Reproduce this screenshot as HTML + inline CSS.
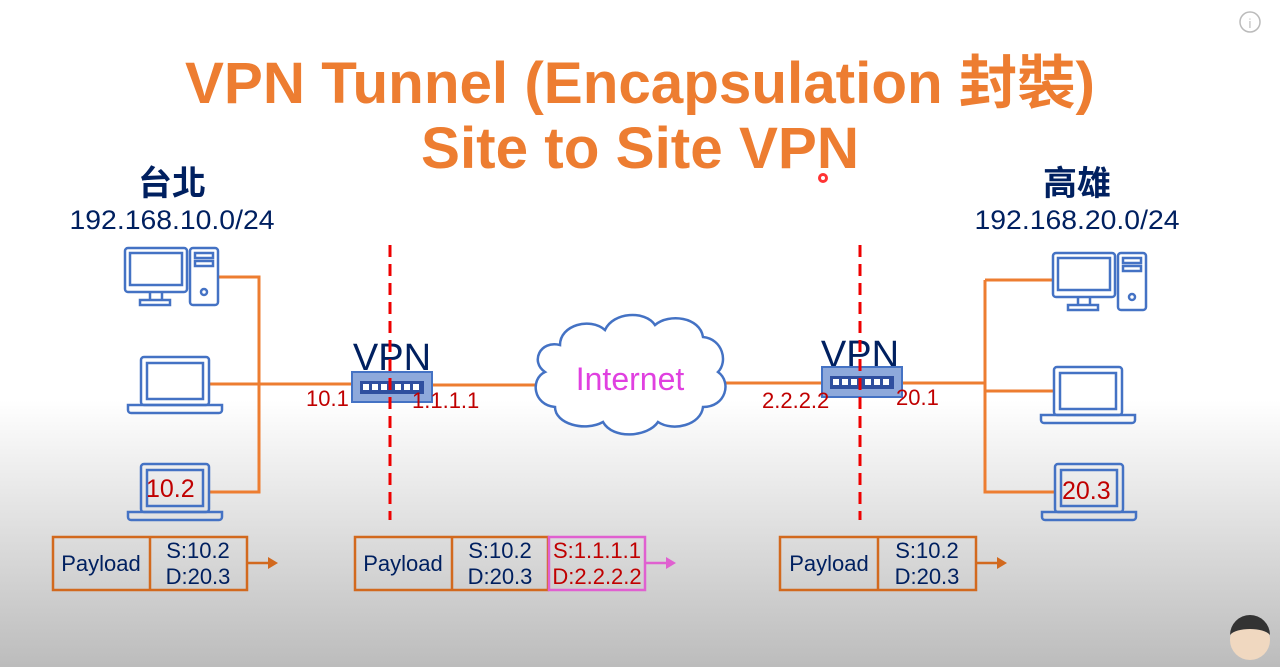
<!DOCTYPE html><html><head><meta charset="utf-8"><style>
html,body{margin:0;padding:0;width:1280px;height:667px;overflow:hidden}
body{background:linear-gradient(#fff 0,#fff 400px,#bcbcbc 667px)}
svg{display:block}
text{font-family:"Liberation Sans","Noto Sans CJK TC",sans-serif}
</style></head><body>
<svg width="1280" height="667" viewBox="0 0 1280 667">
<defs>
<g id="desk" fill="none" stroke="#4472c4" stroke-width="2.5">
<rect x="0" y="0" width="62" height="44" rx="3"/><rect x="5" y="5" width="52" height="32"/>
<path d="M25 44v8M37 44v8"/><rect x="15" y="52" width="30" height="5"/>
<rect x="65" y="0" width="28" height="57" rx="3"/><rect x="70" y="5" width="18" height="5"/><rect x="70" y="13" width="18" height="5"/><circle cx="79" cy="44" r="3"/>
</g>
<g id="lap" fill="none" stroke="#4472c4" stroke-width="2.5">
<rect x="13" y="0" width="68" height="48" rx="3"/><rect x="19" y="6" width="56" height="36"/>
<path d="M0 48h94v5a3 3 0 0 1-3 3H3a3 3 0 0 1-3-3z"/>
</g>
<g id="rt"><rect x="0" y="0" width="80" height="30" fill="#8ea9db" stroke="#4472c4" stroke-width="2"/>
<rect x="8" y="9" width="64" height="13" fill="#2f4f9f"/><g fill="#fff"><rect x="11" y="12" width="6" height="6"/><rect x="20" y="12" width="6" height="6"/><rect x="29" y="12" width="6" height="6"/><rect x="43" y="12" width="6" height="6"/><rect x="52" y="12" width="6" height="6"/><rect x="61" y="12" width="6" height="6"/></g></g>
</defs>
<g font-weight="bold" fill="#ed7d31" font-size="58" text-anchor="middle">
<text x="640" y="103" textLength="910" lengthAdjust="spacingAndGlyphs">VPN Tunnel (Encapsulation 封裝)</text>
<text x="640" y="168" textLength="438" lengthAdjust="spacingAndGlyphs">Site to Site VPN</text></g>
<circle cx="823" cy="178" r="5" fill="#f33"/><circle cx="823" cy="178" r="2" fill="#fff"/>
<circle cx="1250" cy="22" r="10" fill="none" stroke="#bbb" stroke-width="1.5"/><text x="1250" y="28" font-size="13" fill="#bbb" text-anchor="middle">i</text>
<g fill="#002060" text-anchor="middle">
<text x="172" y="195" font-size="34" font-weight="bold">台北</text>
<text x="172" y="229" font-size="27" textLength="205" lengthAdjust="spacingAndGlyphs">192.168.10.0/24</text>
<text x="1077" y="195" font-size="34" font-weight="bold">高雄</text>
<text x="1077" y="229" font-size="27" textLength="205" lengthAdjust="spacingAndGlyphs">192.168.20.0/24</text>
<text x="392" y="370" font-size="38">VPN</text>
<text x="860" y="367" font-size="38">VPN</text>
</g>
<g stroke="#ed7d31" stroke-width="3" fill="none">
<path d="M218 277H259V492H210M210 384H352M432 385H540M720 383H822M900 383H985M985 280V492H1055M1055 391H985M1052 280H985"/>
</g>
<use href="#desk" x="125" y="248"/><use href="#lap" x="128" y="357"/><use href="#lap" x="128" y="464"/>
<use href="#desk" x="1053" y="253"/><use href="#lap" x="1041" y="367"/><use href="#lap" x="1042" y="464"/>
<use href="#rt" x="352" y="372"/><use href="#rt" x="822" y="367"/>
<path d="M560 345c0-20 30-28 45-15c8-18 40-20 50-5c14-12 45-8 48 12c20 2 25 25 15 35c14 10 8 35-15 35c-2 18-30 25-45 15c-10 15-45 18-55 0c-18 10-48 2-48-15c-22-2-25-28-10-35c-15-10-5-32 15-27z" fill="#fff" stroke="#4472c4" stroke-width="2.5"/>
<text x="630" y="390" font-size="32" fill="#e040e0" text-anchor="middle">Internet</text>
<g stroke="#e00" stroke-width="3" stroke-dasharray="12,7"><path d="M390 245V520M860 245V520"/></g>
<g fill="#c00000" font-size="22">
<text x="306" y="406">10.1</text><text x="412" y="408">1.1.1.1</text><text x="762" y="408">2.2.2.2</text><text x="896" y="405">20.1</text>
<text x="146" y="497" font-size="25">10.2</text><text x="1062" y="499" font-size="25">20.3</text></g>
<g stroke="#d2691e" stroke-width="2.5" fill="none">
<rect x="53" y="537" width="194" height="53"/><path d="M150 537v53"/>
<rect x="355" y="537" width="193" height="53"/><path d="M452 537v53"/>
<rect x="780" y="537" width="196" height="53"/><path d="M878 537v53"/>
<path d="M247 563h22M976 563h22"/></g>
<path d="M268 557l10 6-10 6zM997 557l10 6-10 6z" fill="#d2691e"/>
<rect x="549" y="537" width="96" height="53" fill="none" stroke="#e060d0" stroke-width="2.5"/>
<path d="M645 563h22" stroke="#e060d0" stroke-width="2.5"/><path d="M666 557l10 6-10 6z" fill="#e060d0"/>
<g fill="#002060" font-size="22" text-anchor="middle">
<text x="101" y="571">Payload</text><text x="198" y="558">S:10.2</text><text x="198" y="584">D:20.3</text>
<text x="403" y="571">Payload</text><text x="500" y="558">S:10.2</text><text x="500" y="584">D:20.3</text>
<text x="829" y="571">Payload</text><text x="927" y="558">S:10.2</text><text x="927" y="584">D:20.3</text></g>
<g fill="#c00000" font-size="22" text-anchor="middle"><text x="597" y="558">S:1.1.1.1</text><text x="597" y="584">D:2.2.2.2</text></g>
<circle cx="1250" cy="640" r="20" fill="#f0d8c0"/><path d="M1230 635a20 20 0 0 1 40 0c-6-8-34-8-40 0z" fill="#333"/>
</svg></body></html>
